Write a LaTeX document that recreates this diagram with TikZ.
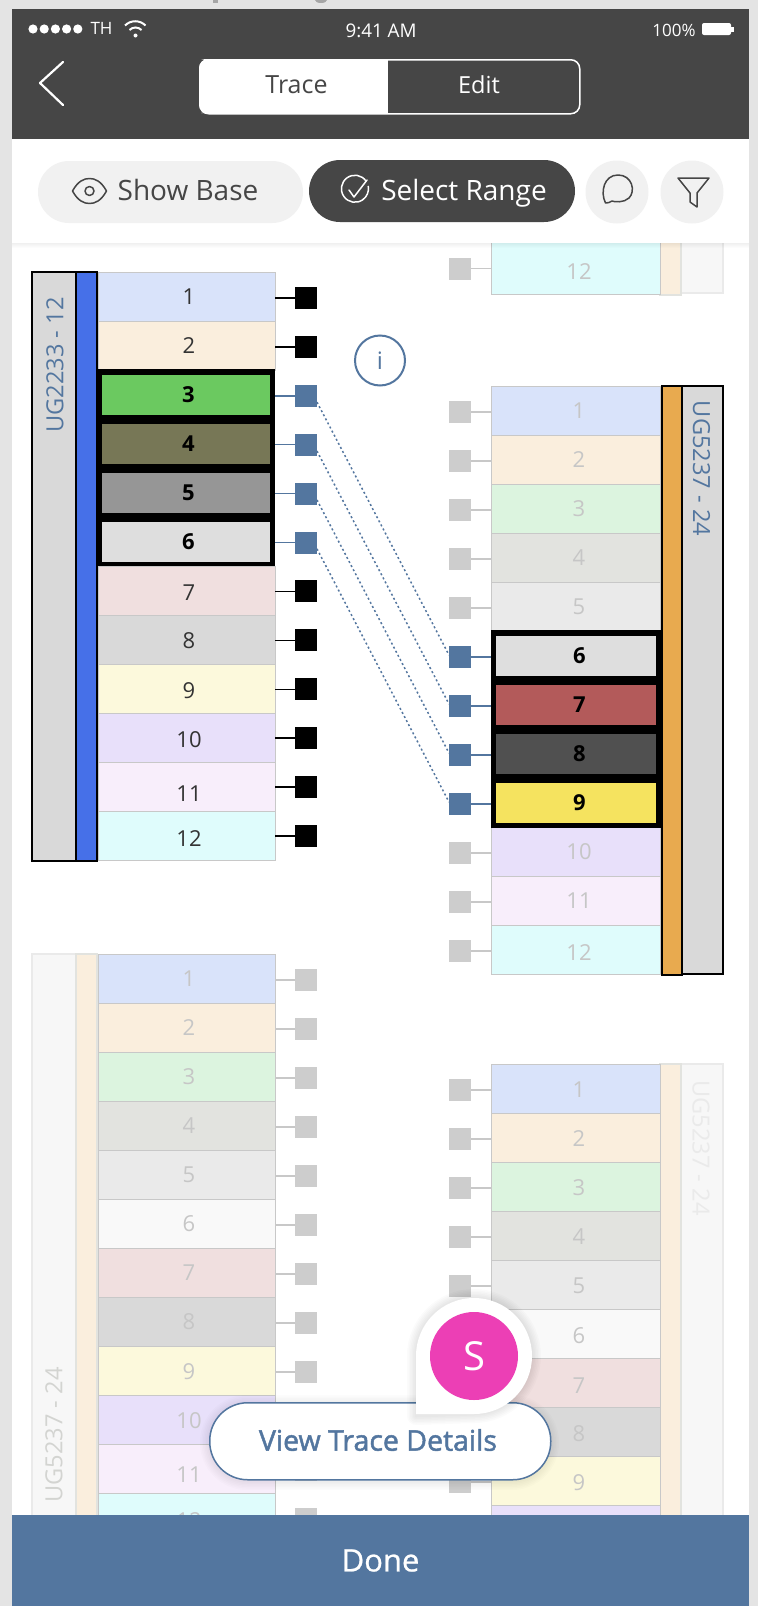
\documentclass[tikz,border=0pt]{standalone}
\usepackage{fontspec}
\setmainfont{Open Sans}
\newfontfamily\semi[FakeBold=1.6]{Open Sans}
\newfontfamily\medi[FakeBold=0.8]{Open Sans}
\newcommand{\fs}[1]{\fontsize{#1}{#1}\selectfont}
\newcommand{\lownum}[2]{\raisebox{-#1pt}[15.7pt][0pt]{#2}}
\definecolor{c1}{HTML}{D9E3FA}\definecolor{c2}{HTML}{FAEEDD}\definecolor{c3}{HTML}{DCF4DF}
\definecolor{c4}{HTML}{E2E3DF}\definecolor{c5}{HTML}{EAEAEA}\definecolor{c6}{HTML}{F9F9F9}
\definecolor{c7}{HTML}{F0DFDF}\definecolor{c8}{HTML}{D9D9D9}\definecolor{c9}{HTML}{FCF9DC}
\definecolor{c10}{HTML}{E8E0FA}\definecolor{c11}{HTML}{F8EEFB}\definecolor{c12}{HTML}{DFFCFC}
\definecolor{dark}{HTML}{464646}\definecolor{steel}{HTML}{53769F}\definecolor{pale}{HTML}{F1F1F1}
\definecolor{fadet}{HTML}{C6C6C6}\definecolor{fadeb}{HTML}{C8C8C8}\definecolor{outer}{HTML}{E4E4E4}
\definecolor{royal}{HTML}{4670E8}\definecolor{amber}{HTML}{E8AA4F}\definecolor{rose}{HTML}{EC3FB5}
\definecolor{offsq}{HTML}{CDCDCD}
\tikzset{
 x=1pt,y=-1pt,
 cellbox/.style={draw=fadeb,line width=1pt,minimum width=177pt,minimum height=49pt,inner sep=0pt,outer sep=0pt,anchor=north west,font=\fs{22}},
 rcell/.style={cellbox,minimum width=169pt},
 selcell/.style={draw=none,inner sep=0pt,outer sep=0pt,anchor=north west,minimum height=39.5pt,font=\bfseries\fs{22},text=black},
 sq/.style={minimum size=22pt,inner sep=0pt,outer sep=0pt,draw=none},
 sqon/.style={sq,fill=black},
 sqsel/.style={sq,fill=steel},
 sqoff/.style={sq,fill=offsq},
 conn/.style={line width=1.4pt},
 trace/.style={draw=steel,line width=1.5pt,dash pattern=on 2pt off 2.6pt},
 bar/.style={line width=1.2pt,inner sep=0pt,outer sep=0pt,anchor=north west},
 tag/.style={font=\fs{23.6},inner sep=0pt},
 icon/.style={line width=1.5pt,draw=#1,line join=round},
 pill/.style={rounded corners=31pt,inner sep=0pt,outer sep=0pt,minimum height=62pt,anchor=north west},
 txt/.style={inner sep=0pt,outer sep=0pt},
}
\begin{document}
\begin{tikzpicture}
\useasboundingbox (0,0) rectangle (758,1606);
\fill[outer] (0,0) rectangle (758,1606);
\fill[white] (12,9) rectangle (749,1606);
% clipped fragments of the text above the phone
\fill[gray!70] (213,0) rectangle (218,3);
\fill[gray!70] (315,0) -- (327,0) arc[start angle=0,end angle=180,x radius=6,y radius=3] -- cycle;

\begin{scope}
\clip (12,243) rectangle (749,1515);
% ---------- top-right remnant
\node[bar,draw=c5,fill=pale!60,minimum width=42pt,minimum height=52pt] (tlab) at (681,241) {};
\node[bar,draw=c4,fill=c2,minimum width=21pt,minimum height=54pt] (tbar) at (660,241) {};
\node[rcell,fill=c12,text=fadet,minimum height=53pt] (tcell) at (491,241) {};
\node[txt,text=fadet,font=\fs{22}] (tnum) at (579,272) {12};
\node[sqoff] (tsq) at (460,268.5) {};
\draw[conn,fadeb] (tsq.east) -- (tsq.east -| tcell.west);

% ---------- group A (active, left)
\node[bar,draw=black,fill=c8,minimum width=44pt,minimum height=589pt] (alab) at (32,272) {};
\node[bar,draw=black,fill=royal,minimum width=21pt,minimum height=589pt] (abar) at (76,272) {};
\node[tag,rotate=90,text=steel] (atag) at (55,365) {UG2233 - 12};
\foreach \i/\dy in {1/0,2/0,7/2,8/1,9/2,10/1,11/6,12/2}{
  \node[cellbox,fill=c\i,text=black!80] (ac\i) at (98,{272+49.08*(\i-1)}) {\kern5pt\lownum{\dy}{\i}};
  \node[sqon] (as\i) at (306,{298+48.9*(\i-1)}) {};
  \draw[conn,black] (as\i.west) -- (as\i.west -| ac\i.east);
}
\node[minimum width=177pt,minimum height=197pt,inner sep=0pt,outer sep=0pt,anchor=north west,fill=black] (abox) at (98,369) {};
\definecolor{s3}{HTML}{6BC960}\definecolor{s4}{HTML}{777756}\definecolor{s5}{HTML}{969696}\definecolor{s6}{HTML}{DEDEDE}
\foreach \i in {3,4,5,6}{
  \node[selcell,fill=s\i,minimum width=168pt] (ac\i) at (102,{375+49*(\i-3)}) {\kern5pt\i};
  \node[sqsel] (as\i) at (306,{298+48.9*(\i-1)}) {};
  \draw[conn,steel] (as\i.west) -- (as\i.west -| abox.east);
}
\node[circle,draw=steel,line width=2pt,fill=white,minimum size=50pt,inner sep=0pt,text=steel,font=\fs{24}] (info) at (380,360.5) {i};

% ---------- group B (active, right)
\node[bar,draw=black,fill=c8,minimum width=41pt,minimum height=588pt] (blab) at (682,386) {};
\node[bar,draw=black,fill=amber,minimum width=20pt,minimum height=589pt] (bbar) at (662,386) {};
\node[tag,rotate=-90,text=steel] (btag) at (701.5,468.5) {UG5237 - 24};
\foreach \i/\dy in {1/0,2/0,3/0,4/0,5/0,10/0,11/0,12/3}{
  \node[rcell,fill=c\i,text=fadet] (bc\i) at (491,{386+49*(\i-1)}) {\kern7pt\lownum{\dy}{\i}};
  \node[sqoff] (bs\i) at (460,{412+49*(\i-1)}) {};
  \draw[conn,fadeb] (bs\i.east) -- (bs\i.east -| bc\i.west);
}
\node[minimum width=170pt,minimum height=198pt,inner sep=0pt,outer sep=0pt,anchor=north west,fill=black] (bbox) at (491,630) {};
\definecolor{t6}{HTML}{DEDEDE}\definecolor{t7}{HTML}{B35A5A}\definecolor{t8}{HTML}{505050}\definecolor{t9}{HTML}{F5E35F}
\foreach \i in {6,7,8,9}{
  \node[selcell,fill=t\i,minimum width=160pt] (bc\i) at (496,{636+49*(\i-6)}) {\kern7pt\i};
  \node[sqsel] (bs\i) at (460,{412+49*(\i-1)}) {};
  \draw[conn,steel] (bs\i.east) -- (bs\i.east -| bbox.west);
}
% traces
\draw[trace] (as3.330) -- (bs6.170);
\draw[trace] (as4.330) -- (bs7.170);
\draw[trace] (as5.330) -- (bs8.170);
\draw[trace] (as6.330) -- (bs9.170);

% ---------- group C (faded, lower left)
\node[bar,draw=c5,fill=pale!60,minimum width=44pt,minimum height=600pt] (clab) at (32,954) {};
\node[bar,draw=c4,fill=c2,minimum width=21pt,minimum height=600pt] (cbar) at (76,954) {};
\node[tag,rotate=90,text=c4!85!gray] (ctag) at (54,1435) {UG5237 - 24};
\foreach \i/\dy in {1/0,2/0,3/0,4/0,5/0,6/0,7/0,8/0,9/1,10/1,11/6,12/3}{
  \node[cellbox,fill=c\i,text=fadet] (cc\i) at (98,{954+49.05*(\i-1)}) {\kern5pt\lownum{\dy}{\i}};
  \node[sqoff] (cs\i) at (306,{980+49*(\i-1)}) {};
  \draw[conn,fadeb] (cs\i.west) -- (cs\i.west -| cc\i.east);
}

% ---------- group D (faded, lower right)
\node[bar,draw=c5,fill=pale!60,minimum width=42pt,minimum height=600pt] (dlab) at (681,1064) {};
\node[bar,draw=c4,fill=c2,minimum width=21pt,minimum height=600pt] (dbar) at (660,1064) {};
\node[tag,rotate=-90,text=c5] (dtag) at (701,1148) {UG5237 - 24};
\foreach \i/\dy in {1/1,2/1,3/1,4/1,5/1,6/2,7/3,8/2,9/2,10/0}{
  \node[rcell,fill=c\i,text=fadet] (dc\i) at (491,{1064+49*(\i-1)}) {\kern7pt\lownum{\dy}{\i}};
  \node[sqoff] (ds\i) at (460,{1090+49*(\i-1)}) {};
  \draw[conn,fadeb] (ds\i.east) -- (ds\i.east -| dc\i.west);
}

% shadow under the toolbar
\foreach \d in {1,2,3,4,5}{ \fill[black,opacity=.012] (12,243) rectangle (749,{243+\d}); }
\end{scope}

% ---------- header
\fill[dark] (12,9) rectangle (749,139);
\foreach \k in {0,1,2,3,4}{ \fill[white] ({33+11.2*\k},29) circle[radius=4.6]; }
\node[txt,white,font=\fs{17}] (carrier) at (101.5,28.5) {TH};
\fill[white] (135.5,35.5) circle[radius=2];
\draw[white,line width=2pt] (129.5,30) arc[start angle=225,end angle=315,radius=8.5];
\draw[white,line width=2pt] (125,25.5) arc[start angle=225,end angle=315,radius=14.5];
\node[txt,white,font=\fs{18.8}] (clock) at (381,31) {9:41 AM};
\node[txt,white,font=\fs{17}] (pct) at (674,30) {100\%};
\fill[white,rounded corners=2pt] (702,23) rectangle (731,35);
\fill[white] (731,26.5) rectangle (733.5,31.5);
\draw[white,line width=2.2pt,line cap=round,line join=round] (63,62) -- (40,83) -- (63,105);
\node[draw=white,line width=1.5pt,fill=dark,rounded corners=9pt,minimum width=380pt,minimum height=54pt,inner sep=0pt,anchor=north west] (seg) at (199,59) {};
\fill[white,rounded corners=9pt] (199,59) rectangle (210,113);
\fill[white] (205,59) rectangle (388,113);
\node[txt,text=dark,font=\fs{25}] (trc) at (296.5,85) {Trace};
\node[txt,white,font=\fs{23.5}] (edt) at (479,85) {Edit};

% ---------- toolbar
\fill[white] (12,139) rectangle (749,243);
\node[pill,fill=pale,minimum width=265pt] (pbase) at (38,161) {};
\node[txt,text=dark,font=\fs{28}] (tbase) at (188,189.5) {Show Base};
\draw[icon=dark] (72.5,191) .. controls (78,181) and (84,178.5) .. (89.5,178.5) .. controls (95,178.5) and (101,181) .. (106.5,191) .. controls (101,201) and (95,203.5) .. (89.5,203.5) .. controls (84,203.5) and (78,201) .. (72.5,191) -- cycle;
\draw[icon=dark] (89.5,191) circle[radius=4.5];
\node[pill,fill=dark,minimum width=266pt] (prange) at (309,160) {};
\node[txt,white,font=\fs{28}] (trange) at (464,193) {Select Range};
\draw[icon=white,line cap=round] (366,181) arc[start angle=325,end angle=-10,radius=13.5];
\draw[icon=white,line cap=round] (349,190) -- (354,197) -- (367,180);
\node[circle,fill=pale,minimum size=63pt,inner sep=0pt] (bchat) at (617,192) {};
\node[circle,fill=pale,minimum size=63pt,inner sep=0pt] (bfilt) at (692,192) {};
\draw[icon=dark] (605.5,203) .. controls (600,192) and (604,175) .. (618,175) .. controls (632,175) and (636,191) .. (629,198) .. controls (624,203) and (614,202) .. (612,201) .. controls (610,202.5) and (608,203) .. (605.5,203) -- cycle;
\draw[icon=dark] (678,178) -- (709,178) -- (697,193) -- (697,207) -- (690,202) -- (690,193) -- cycle;

% ---------- floating controls
\foreach \w in {3,6,9,12,15,18}{
  \draw[black,opacity=.012,line width=\w pt,rounded corners=38pt] (209,1404) rectangle (550,1481);
}
\node[draw=steel,line width=1.5pt,fill=white,rounded corners=38pt,minimum width=341pt,minimum height=77pt,inner sep=0pt,anchor=north west] (view) at (209,1402) {};
\node[txt,text=steel,font=\semi\fs{28.5}] (viewt) at (378,1440) {View Trace Details};
\foreach \w in {3,6,9,12,15,18}{
  \draw[black,opacity=.014,line width=\w pt,line join=round] (416,1416) -- (416,1356) arc[start angle=180,end angle=450,radius=58] -- cycle;
}
\fill[white] (416,1414) -- (416,1356) arc[start angle=180,end angle=450,radius=58] -- cycle;
\node[circle,fill=rose,minimum size=88pt,inner sep=0pt,text=white,font=\fs{40}] (avatar) at (474,1356) {S};

% ---------- done
\node[fill=steel,minimum width=737pt,minimum height=91pt,inner sep=0pt,outer sep=0pt,anchor=north west,text=white,font=\medi\fs{31}] (done) at (12,1515) {Done};
\end{tikzpicture}
\end{document}
